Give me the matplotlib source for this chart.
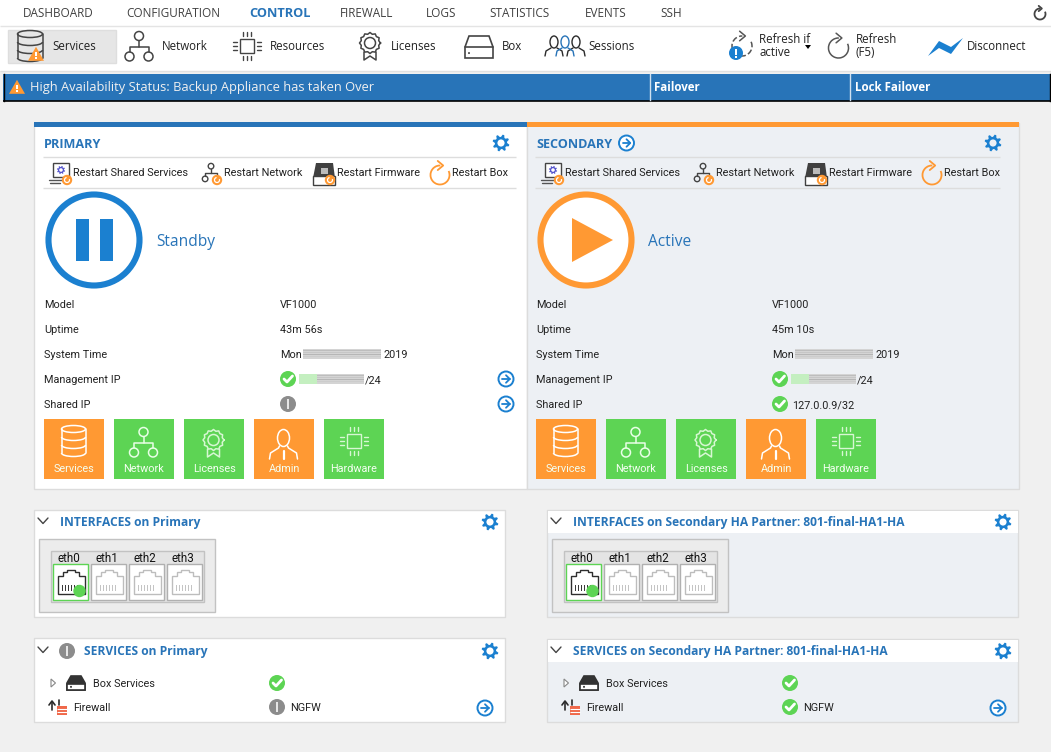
import numpy as np
import matplotlib
matplotlib.use("Agg")
import matplotlib.pyplot as plt
from matplotlib.patches import Rectangle, Circle, Polygon, Ellipse, Arc

plt.rcParams['font.family'] = ['Open Sans', 'DejaVu Sans']

NAV_ITEMS = ["DASHBOARD", "CONFIGURATION", "CONTROL", "FIREWALL", "LOGS", "STATISTICS", "EVENTS", "SSH"]
NAV_X = [23, 126, 249, 340, 426, 489, 585, 660]
TOOL_ITEMS = ["Services", "Network", "Resources", "Licenses", "Box", "Sessions"]
TOOL_X = [52, 162, 270, 391, 502, 588]
RESTART_ITEMS = ["Restart Shared Services", "Restart Network", "Restart Firmware", "Restart Box"]
RESTART_X = [73, 224, 337, 452]
ROW_LABELS = ["Model", "Uptime", "System Time", "Management IP", "Shared IP"]
ROW_Y = [304, 329, 354, 379, 404]
TILE_LABELS = ["Services", "Network", "Licenses", "Admin", "Hardware"]
PORTS = ["eth0", "eth1", "eth2", "eth3"]

BLUE = "#2874b8"; LBLUE = "#1b80d0"; ORANGE = "#ff9933"; GREEN = "#5dd454"; GRAY = "#8c8c8c"
DARK = "#2b2b2b"; PANEL2 = "#edf0f4"; TXT = "#222222"
FS = 7.85
BODY = ['Roboto', 'DejaVu Sans']
TITLE = ['Open Sans', 'DejaVu Sans']

fig = plt.figure(figsize=(10.51, 7.52), dpi=100, facecolor="#f0f0f0")
ax = fig.add_axes([0, 0, 1, 1])
ax.set_xlim(0, 1051); ax.set_ylim(752, 0); ax.axis("off")


def rect(x0, y0, x1, y1, fc="none", ec="none", lw=1, z=1):
    ax.add_patch(Rectangle((x0, y0), x1 - x0, y1 - y0, fc=fc, ec=ec, lw=lw, zorder=z))


def hline(x0, x1, y, c="#dddddd", lw=1, z=2):
    ax.plot([x0, x1], [y, y], color=c, lw=lw, zorder=z, solid_capstyle="butt")


def txt(x, y, s, c=TXT, fs=FS, w="normal", ha="left", z=8, fam=None):
    ax.text(x, y + 0.49 * fs + 0.5, s, color=c, fontsize=fs, fontweight=w, ha=ha, va="baseline", zorder=z,
            family=fam or BODY)


def circ(x, y, r, fc="none", ec="none", lw=1, z=5):
    ax.add_patch(Circle((x, y), r, fc=fc, ec=ec, lw=lw, zorder=z))


def line(xs, ys, c, lw=1, z=6):
    ax.plot(xs, ys, color=c, lw=lw, zorder=z, solid_capstyle="round", solid_joinstyle="round")


def gear(x, y, r=8, c=LBLUE, bg="white"):
    th = np.radians(np.arange(0, 360, 11.25) + 22.5 / 2)
    rr = r * np.where((np.arange(32) % 4) < 2, 1.0, .72)
    ax.add_patch(Polygon(np.c_[x + rr * np.cos(th), y + rr * np.sin(th)], fc=c, ec="none", zorder=5))
    circ(x, y, .42 * r, fc=bg, z=7)


def arrow_c(x, y, r=7.5, c=LBLUE):
    circ(x, y, r, fc="white", ec=c, lw=1.4)
    line([x - r * .5, x + r * .5], [y, y], c, 1.3)
    line([x, x + r * .5, x], [y - r * .5, y, y + r * .5], c, 1.3)


def check(x, y, r=8):
    circ(x, y, r, fc=GREEN)
    line([x - 4, x - 1, x + 4.5], [y, y + 3, y - 3], "white", 2.0)


def info(x, y, r=8):
    circ(x, y, r, fc=GRAY)
    rect(x - 1.2, y - 5, x + 1.2, y + 5, fc="#e6e6e6", z=6)


def warn(x, y, s=8, c=ORANGE):
    ax.add_patch(Polygon([[x - s, y + s * .85], [x + s, y + s * .85], [x, y - s * .9]], fc=c, ec="none", zorder=7))
    rect(x - .8, y - s * .25, x + .8, y + s * .3, fc="white", z=8)
    rect(x - .8, y + s * .42, x + .8, y + s * .65, fc="white", z=8)


def db(x, y, c=DARK, lw=1.1, w=13, h=14):
    for dy in (-h / 3, h / 3, h):
        ax.add_patch(Arc((x, y + dy), 2 * w, 7, theta1=0, theta2=180, ec=c, lw=lw, zorder=6))
    ax.add_patch(Ellipse((x, y - h), 2 * w, 7, fc="none", ec=c, lw=lw, zorder=6))
    line([x - w, x - w], [y - h, y + h], c, lw)
    line([x + w, x + w], [y - h, y + h], c, lw)


def net(x, y, c=DARK, lw=1.1, s=1.0):
    circ(x, y - 11 * s, 4.5 * s, ec=c, lw=lw)
    circ(x - 9.5 * s, y + 9.5 * s, 4.5 * s, ec=c, lw=lw)
    circ(x + 9.5 * s, y + 9.5 * s, 4.5 * s, ec=c, lw=lw)
    line([x, x], [y - 6.5 * s, y], c, lw)
    line([x - 9.5 * s, x - 9.5 * s, x + 9.5 * s, x + 9.5 * s], [y + 5 * s, y, y, y + 5 * s], c, lw)


def chip(x, y, c=DARK, lw=1.0, s=1.0):
    rect(x - 7 * s, y - 7 * s, x + 7 * s, y + 7 * s, ec=c, lw=lw, z=6)
    for d in (-4, 0, 4):
        line([x + d * s, x + d * s], [y - 14 * s, y - 10 * s], c, lw)
        line([x + d * s, x + d * s], [y + 10 * s, y + 14 * s], c, lw)
        line([x - 14 * s, x - 10 * s], [y + d * s, y + d * s], c, lw)
        line([x + 10 * s, x + 14 * s], [y + d * s, y + d * s], c, lw)


def lic(x, y, c=DARK, lw=1.1, s=1.0):
    th = np.linspace(0, 2 * np.pi, 25)[:-1]
    rr = 10.5 * s * np.where(np.arange(24) % 2 == 0, 1.0, .86)
    ax.plot(np.r_[x + rr * np.cos(th), x + rr[0]], np.r_[y - 3 * s + rr * np.sin(th), y - 3 * s], color=c, lw=lw, zorder=6)
    circ(x, y - 3 * s, 5.5 * s, ec=c, lw=lw)
    line([x - 6 * s, x - 6 * s, x, x + 6 * s, x + 6 * s], [y + 6 * s, y + 14 * s, y + 10 * s, y + 14 * s, y + 6 * s], c, lw)


def boxi(x, y, c=DARK, lw=1.2, w=14, h=11, filled=False):
    pts = [[x - w, y + h], [x - w, y], [x - w + 4, y - h], [x + w - 4, y - h], [x + w, y], [x + w, y + h]]
    ax.add_patch(Polygon(pts, fc=c if filled else "none", ec=c, lw=lw, zorder=6))
    if filled:
        rect(x - w, y + 1, x + w, y + h, fc="white", ec=c, lw=lw, z=6)
    else:
        line([x - w, x + w], [y, y], c, lw)
    circ(x - w + 4, y + h * .55, 1, fc=c, z=7)


def person(x, y, c="white", lw=1.1):
    ax.add_patch(Ellipse((x, y - 7), 12, 17, fc="none", ec=c, lw=lw, zorder=6))
    line([x - 14, x - 13, x - 5, x - 4], [y + 14, y + 8, y + 3, y + 1], c, lw)
    line([x + 14, x + 13, x + 5, x + 4], [y + 14, y + 8, y + 3, y + 1], c, lw)
    line([x, x], [y + 6, y + 14], c, 1.6)


def sessions(x, y):
    for dx, col in ((-11, DARK), (11, DARK), (0, BLUE)):
        ax.add_patch(Ellipse((x + dx, y - 5), 8, 12, fc="white", ec=col, lw=1.0, zorder=6 if col == BLUE else 5))
        line([x + dx - 9, x + dx - 8, x + dx - 3], [y + 9, y + 4, y + 1], col, 1.0)
        line([x + dx + 9, x + dx + 8, x + dx + 3], [y + 9, y + 4, y + 1], col, 1.0)


def refresh(x, y, r=8.5, c="#555555", lw=1.1, dashed=False):
    ax.add_patch(Arc((x, y), 2 * r, 2 * r, theta1=-25, theta2=272, ec=c, lw=lw, zorder=6,
                     ls="--" if dashed else "-"))
    ty = y - r
    q = r * .48
    line([x - q * .5, x + q * .7, x - q * .5], [ty - q, ty, ty + q], c, lw)


def redact(x0, x1, y, tint=None):
    rect(x0, y - 5, x1, y + 4.5, fc="#d4d4d4", z=4)
    for k, col in zip(range(-4, 4, 2), ["#bdbdbd", "#c6c6c6", "#b6b6b6", "#cccccc"]):
        rect(x0, y + k, x1, y + k + 1.2, fc=col, z=4)
    if tint:
        rect(x0, y - 5, x0 + 18, y + 5, fc=tint, z=4.5)


def rj45(x, y, on=False):
    c = "#2e2e2e" if on else "#bdbdbd"
    rect(x, y, x + 35, y + 36, fc="white", ec=GREEN if on else "#b0b0b0", lw=1, z=3)
    pts = [[x + 5, y + 30], [x + 5, y + 12], [x + 10, y + 12], [x + 10, y + 8], [x + 14, y + 8], [x + 14, y + 6],
           [x + 22, y + 6], [x + 22, y + 8], [x + 26, y + 8], [x + 26, y + 12], [x + 32, y + 12], [x + 32, y + 30]]
    ax.add_patch(Polygon(pts, fc="none", ec=c, lw=1, zorder=4))
    for k in range(6):
        rect(x + 9 + 3 * k, y + 21, x + 10.5 + 3 * k, y + 27, fc="#3a3a3a" if on else "#c4c4c4", z=4)
    if on:
        circ(x + 27, y + 27, 6.2, fc=GREEN, z=6)


# ---------- header ----------
rect(0, 0, 1051, 71, fc="white", z=0)
hline(0, 1051, 25.5, "#e4e4e4")
hline(0, 1051, 71, "#e0e0e0")
for s, x in zip(NAV_ITEMS, NAV_X):
    active = s == "CONTROL"
    txt(x, 12, s, c=BLUE if active else "#404040", fs=9.2 if active else 8.45, w="bold" if active else "normal", fam=TITLE)
refresh(1040, 14, r=5.5, c="#444444", lw=1.3)

rect(8, 30, 116, 63, fc="#e6e6e6", ec="#dedede")
for s, x in zip(TOOL_ITEMS, TOOL_X):
    txt(x, 45, s, fam=TITLE, fs=8.3)
db(30, 46, c="#444444", w=12.5, h=12)
warn(36, 54, s=8)
net(139, 47, c="#444444")
chip(247, 46, c="#444444")
lic(370, 46, c="#444444")
boxi(479, 47, c="#444444")
sessions(565, 47)
refresh(742, 46, r=10, dashed=True)
circ(736, 53, 7, fc=LBLUE, z=8)
rect(735.2, 48.5, 736.8, 54.5, fc="white", z=9)
rect(735.2, 55.5, 736.8, 57.5, fc="white", z=9)
txt(759, 38.5, "Refresh if", fam=TITLE, fs=8.3); txt(759, 51, "active", fam=TITLE, fs=8.3)
ax.add_patch(Polygon([[805, 45], [811, 45], [808, 49]], fc="black", zorder=6))
refresh(838.5, 48, r=10)
txt(856, 38.5, "Refresh", fam=TITLE, fs=8.3); txt(856, 51, "(F5)", fam=TITLE, fs=8.3)
ax.add_patch(Polygon([[928, 56], [939, 41], [951, 47], [963, 38], [951, 54], [939, 48]], fc=LBLUE, zorder=6))
txt(967, 45, "Disconnect", fam=TITLE, fs=8.3)

# ---------- banner ----------
rect(3, 74, 1050, 101, fc=BLUE, z=1)
hline(3, 1050, 101, "black", 1.2)
ax.plot([3.5, 3.5], [74, 101], color="black", lw=1, zorder=2)
ax.plot([1050, 1050], [74, 101], color="black", lw=1, zorder=2)
warn(17, 87, s=8)
txt(30, 86, "High Availability Status: Backup Appliance has taken Over", c="#f0f0f0", fs=9.3, fam=TITLE)
for xv in (649.5, 850):
    ax.plot([xv, xv], [74, 100], color="#cfe0f0", lw=1, zorder=3)
txt(654, 86, "Failover", c="white", w="bold", fam=TITLE, fs=8.3)
txt(855, 86, "Lock Failover", c="white", w="bold", fam=TITLE, fs=8.3)


# ---------- HA panels ----------
def ha_panel(ox, x0, x1, title, band, ring, bg, big, state, uptime, secondary):
    rect(x0, 123, x1, 488.5, fc=bg, ec="#dcdcdc", z=1)
    rect(x0, 122, x1, 127, fc=band, z=2)
    txt(44 + ox, 143, title, c=BLUE, w="bold", fs=9.1, fam=TITLE)
    if secondary:
        arrow_c(626.5, 143, r=7.5)
    gear(501 + ox, 143, r=8.5, bg=bg)
    hline(43 + ox, 516 + ox - (8 if secondary else 0), 156.5)
    hline(43 + ox, 516 + ox - (8 if secondary else 0), 187.5)
    for s, x in zip(RESTART_ITEMS, RESTART_X):
        txt(x + ox, 172, s)
    # restart icons
    rect(53 + ox, 163, 69 + ox, 177, fc="white", ec="#444444", lw=1, z=5)
    gear(61 + ox, 170, r=4.2, c="#5555cc")
    line([49 + ox, 62 + ox], [180, 180], "#555555", 1)
    line([50 + ox, 60 + ox], [183, 183], "#555555", 1)
    net(211 + ox, 173, c="#444444", lw=1, s=.62)
    circ(217 + ox, 180, 5.2, fc=ORANGE, z=7)
    ax.add_patch(Polygon([[313 + ox, 178], [316 + ox, 163], [333 + ox, 163], [335 + ox, 178]], fc="#404040", zorder=5))
    rect(321 + ox, 168, 328 + ox, 174, fc="#bbbbbb", z=6)
    rect(313 + ox, 176, 335 + ox, 185, fc="white", ec="#404040", z=5)
    circ(330 + ox, 180, 5.2, fc=ORANGE, z=7)
    circ(67 + ox, 180, 5.2, fc=ORANGE, z=7)
    for cx in (67 + ox, 217 + ox, 330 + ox):
        ax.add_patch(Arc((cx, 180), 5, 5, theta1=-20, theta2=260, ec="white", lw=.9, zorder=8))
    refresh(440 + ox, 175, r=9.5, c=ORANGE, lw=1.3)
    # big state icon
    circ(94 + ox, 240, 45.5, fc="white", ec=ring, lw=4.4, z=4)
    if big == "pause":
        rect(76 + ox, 219, 89 + ox, 261, fc=ring, z=5)
        rect(100 + ox, 219, 113 + ox, 261, fc=ring, z=5)
    else:
        ax.add_patch(Polygon([[572, 218], [572, 262], [613, 240]], fc=ring, zorder=5))
    txt(156 + ox, 240, state, c=BLUE, fs=11.2, fam=TITLE)
    # rows
    for s, y in zip(ROW_LABELS, ROW_Y):
        txt(44 + ox, y, s)
    txt(280 + ox, ROW_Y[0], "VF1000")
    txt(280 + ox, ROW_Y[1], uptime)
    txt(280 + ox, ROW_Y[2], "Mon")
    redact(303 + ox, 381 + ox, ROW_Y[2])
    txt(383 + ox, ROW_Y[2], "2019")
    check(288 + ox, ROW_Y[3])
    redact(299 + ox, 364 + ox, ROW_Y[3], tint="#c4efc0")
    txt(365 + ox, ROW_Y[3], "/24")
    if secondary:
        check(780, ROW_Y[4])
        txt(792, ROW_Y[4], "127.0.0.9/32")
    else:
        info(288, ROW_Y[4])
        arrow_c(506, ROW_Y[3])
        arrow_c(506, ROW_Y[4])
    # tiles
    colors = [ORANGE, GREEN, GREEN, ORANGE, GREEN]
    for i, (s, col) in enumerate(zip(TILE_LABELS, colors)):
        x = 44 + ox + 70 * i
        rect(x, 419, x + 60, 479, fc=col, z=3)
        txt(x + 30, 468, s, c="#f4fff2", ha="center")
    db(73.5 + ox, 441, c="white", w=12, h=12)
    net(143.5 + ox, 443, c="#e8ffe6", s=1.0)
    lic(213.5 + ox, 443, c="#d7f7d3", s=1.0)
    person(283.5 + ox, 445)
    chip(353.5 + ox, 441, c="#d7f7d3", s=1.0)


ha_panel(0, 34, 527, "PRIMARY", BLUE, LBLUE, "white", "pause", "Standby", "43m 56s", False)
ha_panel(492, 527, 1019, "SECONDARY", ORANGE, ORANGE, PANEL2, "play", "Active", "45m 10s", True)


# ---------- lower panels ----------
def chevron(x, y):
    line([x - 5, x, x + 5], [y - 3, y + 2.5, y - 3], "#444444", 1)


def iface(x0, x1, title, tx, gx, box_dx, bg, header):
    rect(x0, 510, x1, 617, fc=bg, ec="#dcdcdc", z=1)
    if header:
        rect(x0 + .5, 510.5, x1 - .5, 533, fc="white", z=1.5)
    chevron(x0 + 9, 521)
    txt(tx, 521, title, c=BLUE, w="bold", fs=8.65, fam=TITLE)
    gear(gx, 522, r=8.5, bg="white")
    rect(39 + box_dx, 539, 215 + box_dx, 612, fc="#ececec", ec="#c2c2c2", z=2)
    rect(50.5 + box_dx, 550.5, 204 + box_dx, 602, fc="#e4e4e4", ec="#c2c2c2", z=2)
    for i, p in enumerate(PORTS):
        txt(69 + 38 * i + box_dx, 557.5, p, ha="center", c="#111111", fs=8.4)
        rj45(52.5 + 38 * i + box_dx, 564, on=i == 0)


def fw_icon(x, y):
    line([x - 6, x - 6], [y - 5, y + 3], DARK, 1.2)
    line([x - 9, x - 6, x - 3], [y - 2, y - 6, y - 2], DARK, 1.2)
    rect(x - 1, y - 1, x + 9, y + 8, fc="#f0684a", z=5)
    for v in (1.5, 4.5):
        hline(x - 1, x + 9, y + v, "white", .8, z=6)
    line([x + 1, x + 1], [y - 7, y - 2], DARK, 1.2)


def services(x0, x1, y0, title, tx, gx, ox, bg, header, primary):
    rect(x0, y0, x1, 722, fc=bg, ec="#dcdcdc", z=1)
    if header:
        rect(x0 + .5, y0 + .5, x1 - .5, y0 + 23, fc="white", z=1.5)
    chevron(x0 + 9, 650)
    if primary:
        info(67, 651)
    txt(tx, 650, title, c=BLUE, w="bold", fs=8.65, fam=TITLE)
    gear(gx, 651, r=8.5, bg="white")
    ax.add_patch(Polygon([[51 + ox, 679], [51 + ox, 687], [55.5 + ox, 683]], fc="white", ec="#888888", lw=.8, zorder=5))
    boxi(76 + ox, 683, c="#333333", w=9, h=7, filled=True)
    txt(93 + ox, 683, "Box Services")
    check(277 + ox, 683)
    fw_icon(58 + ox, 707)
    txt(73 + ox, 707, "Firewall")
    if primary:
        info(277, 707)
    else:
        check(277 + ox, 707)
    txt(290 + ox, 707, "NGFW")
    arrow_c(485 + ox, 708, r=7.5)


T2 = "Secondary HA Partner: 801-final-HA1-HA"
iface(34, 505, "INTERFACES on Primary", 60, 490, 0, "white", False)
iface(547, 1018, "INTERFACES on " + T2, 573, 1003, 513, PANEL2, True)
services(34, 505, 638, "SERVICES on Primary", 84, 490, 0, "white", False, True)
services(547, 1018, 639, "SERVICES on " + T2, 573, 1003, 513, PANEL2, True, False)

fig.savefig("out.png", dpi=100, facecolor=fig.get_facecolor())
